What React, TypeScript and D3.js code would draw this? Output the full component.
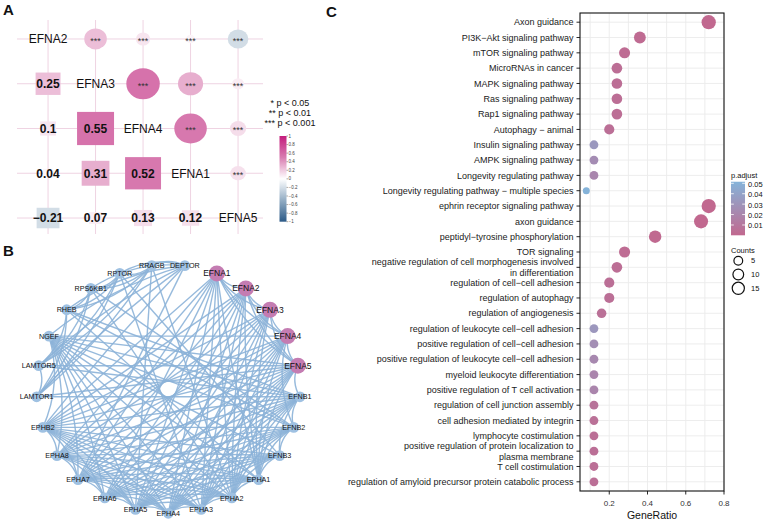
import React from "react";
import * as d3 from "d3";

// ---------- panel A: correlation ----------
const corrGenes = ["EFNA2", "EFNA3", "EFNA4", "EFNA1", "EFNA5"];
const corrValues = [
  [1, 0.25, 0.1, 0.04, -0.21],
  [0.25, 1, 0.55, 0.31, 0.07],
  [0.1, 0.55, 1, 0.52, 0.13],
  [0.04, 0.31, 0.52, 1, 0.12],
  [-0.21, 0.07, 0.13, 0.12, 1],
];
const corrStars = [
  ["", "***", "***", "***", "***"],
  ["", "", "***", "***", "***"],
  ["", "", "", "***", "***"],
  ["", "", "", "", "***"],
  ["", "", "", "", ""],
];
const corrTicks = [1, 0.8, 0.6, 0.4, 0.2, 0, -0.2, -0.4, -0.6, -0.8, -1];
const sigLegend = ["* p < 0.05", "** p < 0.01", "*** p < 0.001"];

// ---------- panel B: network ----------
const netNodes = [
  "DEPTOR", "EFNA1", "EFNA2", "EFNA3", "EFNA4", "EFNA5", "EFNB1", "EFNB2", "EFNB3",
  "EPHA1", "EPHA2", "EPHA3", "EPHA4", "EPHA5", "EPHA6", "EPHA7", "EPHA8", "EPHB2",
  "LAMTOR1", "LAMTOR5", "NGEF", "RHEB", "RPS6KB1", "RPTOR", "RRAGB",
];
const ephrinA = ["EFNA1", "EFNA2", "EFNA3", "EFNA4", "EFNA5"];
const ephrinB = ["EFNB1", "EFNB2", "EFNB3"];
const ephReceptors = ["EPHA1", "EPHA2", "EPHA3", "EPHA4", "EPHA5", "EPHA6", "EPHA7", "EPHA8", "EPHB2"];
const mtorGroup = ["DEPTOR", "RPTOR", "RRAGB", "RPS6KB1", "RHEB", "LAMTOR1", "LAMTOR5"];
const extraEdges: [string, string][] = [
  ["NGEF", "EFNB1"], ["NGEF", "EFNB2"], ["NGEF", "EFNB3"], ["NGEF", "EFNA5"], ["NGEF", "EFNA4"],
  ["RHEB", "EFNB1"], ["LAMTOR5", "EFNA5"], ["LAMTOR5", "EFNB1"], ["LAMTOR1", "EFNB1"],
  ["LAMTOR1", "EFNA5"], ["RPS6KB1", "EPHA2"], ["RPS6KB1", "EFNB2"], ["RPTOR", "EPHA3"],
  ["DEPTOR", "EPHA7"], ["RRAGB", "EPHA5"], ["EFNA5", "EFNB1"], ["EFNA4", "EFNB2"],
  ["DEPTOR", "NGEF"], ["RHEB", "EPHA1"], ["RPTOR", "EFNB3"], ["RRAGB", "EPHA2"],
  ["DEPTOR", "EPHB2"], ["RHEB", "EFNB2"],
];

// ---------- panel C: enrichment ----------
const terms = [
  "Axon guidance",
  "PI3K\u2212Akt signaling pathway",
  "mTOR signaling pathway",
  "MicroRNAs in cancer",
  "MAPK signaling pathway",
  "Ras signaling pathway",
  "Rap1 signaling pathway",
  "Autophagy \u2212 animal",
  "Insulin signaling pathway",
  "AMPK signaling pathway",
  "Longevity regulating pathway",
  "Longevity regulating pathway \u2212 multiple species",
  "ephrin receptor signaling pathway",
  "axon guidance",
  "peptidyl\u2212tyrosine phosphorylation",
  "TOR signaling",
  "negative regulation of cell morphogenesis involved\nin differentiation",
  "regulation of cell\u2212cell adhesion",
  "regulation of autophagy",
  "regulation of angiogenesis",
  "regulation of leukocyte cell\u2212cell adhesion",
  "positive regulation of cell\u2212cell adhesion",
  "positive regulation of leukocyte cell\u2212cell adhesion",
  "myeloid leukocyte differentiation",
  "positive regulation of T cell activation",
  "regulation of cell junction assembly",
  "cell adhesion mediated by integrin",
  "lymphocyte costimulation",
  "positive regulation of protein localization to\nplasma membrane",
  "T cell costimulation",
  "regulation of amyloid precursor protein catabolic process",
];
const geneRatio = [
  0.72, 0.36, 0.28, 0.24, 0.24, 0.24, 0.24, 0.2, 0.12, 0.12, 0.12, 0.08,
  0.72, 0.68, 0.44, 0.28, 0.24, 0.2, 0.2, 0.16, 0.12, 0.12, 0.12, 0.12, 0.12,
  0.12, 0.12, 0.12, 0.12, 0.12, 0.12,
];
const geneCounts = [
  18, 9, 7, 6, 6, 6, 6, 5, 3, 3, 3, 2,
  18, 17, 11, 7, 6, 5, 5, 4, 3, 3, 3, 3, 3,
  3, 3, 3, 3, 3, 3,
];
const pAdjust = [
  0.0002, 0.002, 0.003, 0.004, 0.004, 0.004, 0.004, 0.005, 0.033, 0.025, 0.021, 0.0515,
  0.0001, 0.0002, 0.001, 0.003, 0.004, 0.005, 0.005, 0.006, 0.032, 0.026, 0.022, 0.02, 0.02,
  0.008, 0.006, 0.005, 0.005, 0.005, 0.005,
];
const ratioTicks = [0.2, 0.4, 0.6, 0.8];
const ratioMinor = [0.1, 0.3, 0.5, 0.7];
const pTicks = [0.05, 0.04, 0.03, 0.02, 0.01];
const countTicks = [5, 10, 15];

const FONT = "'Liberation Sans', Arial, Helvetica, sans-serif";

function allPairs(list: string[]): [string, string][] {
  const out: [string, string][] = [];
  list.forEach((a, i) => list.slice(i + 1).forEach((b) => out.push([a, b])));
  return out;
}

function PanelA() {
  const x = d3.scaleBand().domain(corrGenes).range([24.3, 261.8]);
  const y = d3.scaleBand().domain(corrGenes).range([16.6, 240.4]);
  const bw = x.bandwidth();
  const bh = y.bandwidth();
  const color = d3
    .scaleLinear<string>()
    .domain([-1, -0.5, 0, 0.5, 1])
    .range(["#2c5a87", "#93adc4", "#ffffff", "#d87cb0", "#c41c7c"]);
  const barY = d3.scaleLinear().domain([-1, 1]).range([221.7, 136]);
  const gridColor = "#efd3e2";

  return (
    <g>
      {corrGenes.map((g) => (
        <g key={"grid" + g}>
          <line x1={17} x2={263} y1={y(g)! + bh / 2} y2={y(g)! + bh / 2} stroke={gridColor} strokeWidth={1} />
          <line x1={x(g)! + bw / 2} x2={x(g)! + bw / 2} y1={20} y2={234} stroke={gridColor} strokeWidth={1} />
        </g>
      ))}
      {corrValues.map((row, i) =>
        row.map((v, j) => {
          const cx = x(corrGenes[j])! + bw / 2;
          const cy = y(corrGenes[i])! + bh / 2;
          const s = Math.sqrt(Math.abs(v));
          if (i === j) {
            return (
              <text key={`d${i}`} x={cx} y={cy} dy="0.36em" textAnchor="middle" fontSize={12} fill="#111">
                {corrGenes[i]}
              </text>
            );
          }
          if (j > i) {
            return (
              <g key={`u${i}${j}`}>
                <ellipse cx={cx} cy={cy} rx={0.95 * (bw / 2) * s} ry={0.93 * (bh / 2) * s} fill={color(v)} />
                <text x={cx} y={cy + 4.8} textAnchor="middle" fontSize={9} fill="#333">
                  {corrStars[i][j]}
                </text>
              </g>
            );
          }
          const w = 1.05 * bw * s;
          const h = 1.0 * bh * s;
          return (
            <g key={`l${i}${j}`}>
              <rect x={cx - w / 2} y={cy - h / 2} width={w} height={h} fill={color(v)} />
              <text x={cx} y={cy} dy="0.36em" textAnchor="middle" fontSize={12} fontWeight="bold" fill="#111">
                {v < 0 ? "\u2212" + Math.abs(v) : String(v)}
              </text>
            </g>
          );
        })
      )}
      {sigLegend.map((t, i) => (
        <text key={t} x={290} y={106 + i * 10} textAnchor="middle" fontSize={9} fill="#111">
          {t}
        </text>
      ))}
      <defs>
        <linearGradient id="corrGrad" x1="0" y1="1" x2="0" y2="0">
          {d3.range(-1, 1.001, 0.25).map((v) => (
            <stop key={v} offset={(v + 1) / 2} stopColor={color(v)} />
          ))}
        </linearGradient>
      </defs>
      <rect x={279.5} y={136} width={7} height={85.7} fill="url(#corrGrad)" />
      {corrTicks.map((t) => (
        <g key={"ct" + t}>
          <line x1={286.5} x2={288} y1={barY(t)} y2={barY(t)} stroke="#555" strokeWidth={0.5} />
          <text x={288.5} y={barY(t)} dy="0.35em" fontSize={4.5} fill="#444">
            {t < 0 ? "\u2212" + Math.abs(t) : String(t)}
          </text>
        </g>
      ))}
    </g>
  );
}

function PanelB() {
  const cx = 168.3;
  const cy = 389;
  const ry = 124.3;
  const rx = 131.9;
  const angle = d3
    .scaleLinear()
    .domain([0, netNodes.length])
    .range([0, 2 * Math.PI]);
  const pos = new Map<string, [number, number]>();
  netNodes.forEach((n, i) => {
    const [px, py] = d3.pointRadial(angle(i + 0.5), ry);
    pos.set(n, [cx + (px * rx) / ry, cy + py]);
  });
  const edges: [string, string][] = [
    ...allPairs(mtorGroup),
    ...(d3.cross(ephrinA, ephReceptors) as [string, string][]),
    ...(d3.cross(ephrinB, ephReceptors) as [string, string][]),
    ...allPairs(ephReceptors),
    ...allPairs(ephrinA),
    ...allPairs(ephrinB),
    ...(d3.cross(["NGEF"], ephReceptors) as [string, string][]),
    ...extraEdges,
  ];
  const path = (a: string, b: string) => {
    let [s, t] = [a, b];
    if (netNodes.indexOf(s) > netNodes.indexOf(t)) [s, t] = [t, s];
    const [x1, y1] = pos.get(s)!;
    const [x2, y2] = pos.get(t)!;
    const dx = x2 - x1;
    const dy = y2 - y1;
    const len = Math.hypot(dx, dy);
    const off = Math.max(0, len * 0.3 * (1 - len / 235));
    const mx = (x1 + x2) / 2 + (-dy / len) * off;
    const my = (y1 + y2) / 2 + (dx / len) * off;
    const p = d3.path();
    p.moveTo(x1, y1);
    p.quadraticCurveTo(mx, my, x2, y2);
    return p.toString();
  };
  return (
    <g>
      <g fill="none" stroke="#8cb3d8" strokeWidth={1.4} strokeOpacity={0.9}>
        {edges.map(([a, b], i) => (
          <path key={"e" + i} d={path(a, b)} />
        ))}
      </g>
      {netNodes.map((n) => {
        const [px, py] = pos.get(n)!;
        const hub = ephrinA.includes(n);
        return (
          <g key={n}>
            <circle cx={px} cy={py} r={hub ? 8 : 5.4} fill={hub ? "#c47cb2" : "#9fc1e2"} />
            <text x={px} y={py} dy="0.36em" textAnchor="middle" fontSize={hub ? 8.5 : 7.2} fill="#111">
              {n}
            </text>
          </g>
        );
      })}
    </g>
  );
}

function PanelC() {
  const x = d3.scaleLinear().domain([0.047, 0.8]).range([580, 724]);
  const y = d3.scalePoint<string>().domain(terms).range([13, 491]).padding(0.6);
  const pExt = d3.extent(pAdjust) as [number, number];
  const color = d3.scaleLinear<string>().domain(pExt).range(["#c1688f", "#85b3d9"]);
  const cExt = d3.extent(geneCounts) as [number, number];
  const cNorm = d3.scaleLinear().domain(cExt).range([0, 1]);
  const radius = (c: number) => 3.5 + 3.65 * Math.sqrt(Math.max(0, cNorm(c)));
  const pY = d3.scaleLinear().domain([0, 0.05]).range([235.4, 183.3]);
  const lineH = 10.6;

  return (
    <g>
      {ratioMinor.concat(ratioTicks).map((t) => (
        <line key={"vg" + t} x1={x(t)} x2={x(t)} y1={13} y2={491} stroke="#ebebeb" strokeWidth={0.9} />
      ))}
      {terms.map((t) => (
        <line key={"hg" + t} x1={580} x2={724} y1={y(t)} y2={y(t)} stroke="#ebebeb" strokeWidth={0.9} />
      ))}
      {terms.map((t, i) => (
        <circle key={"pt" + t} cx={x(geneRatio[i])} cy={y(t)} r={radius(geneCounts[i])} fill={color(pAdjust[i])} />
      ))}
      <rect x={580} y={13} width={144} height={478} fill="none" stroke="#111" strokeWidth={1.1} />
      {terms.map((t) => {
        const lines = t.split("\n");
        return (
          <g key={"yl" + t}>
            <line x1={576.5} x2={580} y1={y(t)} y2={y(t)} stroke="#111" strokeWidth={0.9} />
            <text x={573.5} y={y(t)! - ((lines.length - 1) / 2) * lineH} textAnchor="end" fontSize={9} fill="#1a1a1a">
              {lines.map((l, k) => (
                <tspan key={k} x={573.5} dy={k === 0 ? "0.35em" : lineH}>
                  {l}
                </tspan>
              ))}
            </text>
          </g>
        );
      })}
      {ratioTicks.map((t) => (
        <g key={"xt" + t}>
          <line x1={x(t)} x2={x(t)} y1={491} y2={494.5} stroke="#111" strokeWidth={0.9} />
          <text x={x(t)} y={506} textAnchor="middle" fontSize={8} fill="#333">
            {t.toFixed(1)}
          </text>
        </g>
      ))}
      <text x={652} y={518.5} textAnchor="middle" fontSize={10.5} fill="#111">
        GeneRatio
      </text>

      {/* p.adjust legend */}
      <text x={731} y={177.5} fontSize={7.5} fill="#111">
        p.adjust
      </text>
      <defs>
        <linearGradient id="pGrad" x1="0" y1="1" x2="0" y2="0">
          {d3.range(0, 1.001, 0.1).map((k) => (
            <stop key={k} offset={k} stopColor={color(pExt[0] + k * (pExt[1] - pExt[0]))} />
          ))}
        </linearGradient>
      </defs>
      <rect x={731} y={pY(pExt[1])} width={14} height={pY(pExt[0]) - pY(pExt[1])} fill="url(#pGrad)" />
      {pTicks.map((t) => (
        <g key={"pt" + t}>
          <line x1={731} x2={733.8} y1={pY(t)} y2={pY(t)} stroke="#fff" strokeWidth={0.8} />
          <line x1={742.2} x2={745} y1={pY(t)} y2={pY(t)} stroke="#fff" strokeWidth={0.8} />
          <text x={748} y={pY(t) + 0.8} dy="0.35em" fontSize={7.5} fill="#111">
            {t.toFixed(2)}
          </text>
        </g>
      ))}

      {/* counts legend */}
      <text x={731} y={253} fontSize={7.5} fill="#111">
        Counts
      </text>
      {countTicks.map((c, i) => (
        <g key={"ck" + c}>
          <circle cx={738.3} cy={260.7 + i * 13.8} r={radius(c) - 0.7} fill="none" stroke="#111" strokeWidth={1.2} />
          <text x={751} y={260.7 + i * 13.8} dy="0.35em" fontSize={7.5} fill="#111">
            {c}
          </text>
        </g>
      ))}
    </g>
  );
}

export default function App() {
  return (
    <svg
      width={768}
      height={520}
      style={{ position: "absolute", left: 0, top: 0, background: "#fff" }}
      fontFamily={FONT}
    >
      <rect width={768} height={520} fill="#fff" />
      <PanelA />
      <PanelB />
      <PanelC />
      <text x={3} y={15} fontSize={15} fontWeight="bold" fill="#111">
        A
      </text>
      <text x={3} y={256} fontSize={15} fontWeight="bold" fill="#111">
        B
      </text>
      <text x={326} y={17} fontSize={15} fontWeight="bold" fill="#111">
        C
      </text>
    </svg>
  );
}
